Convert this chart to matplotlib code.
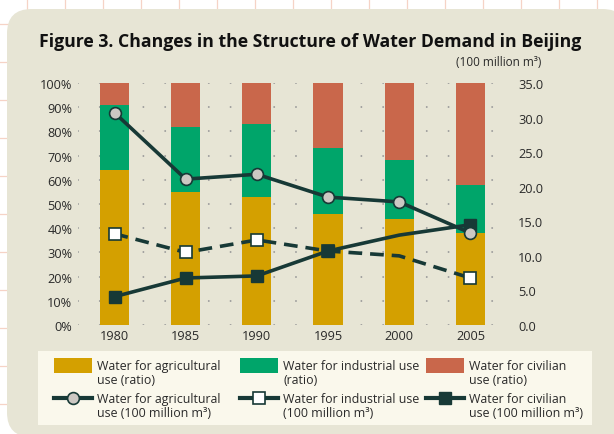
import matplotlib
matplotlib.use("Agg")
import matplotlib.pyplot as plt
import matplotlib.patches as mpatches
import matplotlib.lines as mlines
import numpy as np

plt.rcParams['font.family'] = ['Open Sans', 'DejaVu Sans']

years = ["1980", "1985", "1990", "1995", "2000", "2005"]
agri_ratio = [64, 55, 53, 46, 44, 38]
ind_ratio = [27, 27, 30, 27, 24, 20]
civ_ratio = [9, 18, 17, 27, 32, 42]
agri_vol = [30.7, 21.1, 21.8, 18.5, 17.8, 13.3]
ind_vol = [13.2, 10.5, 12.3, 10.7, 10.0, 6.8]
civ_vol = [4.1, 6.8, 7.1, 10.7, 13.0, 14.5]

left_ticks = [0, 10, 20, 30, 40, 50, 60, 70, 80, 90, 100]
right_ticks = [0, 5, 10, 15, 20, 25, 30, 35]

legend_bar_labels = ["Water for agricultural\nuse (ratio)",
                     "Water for industrial use\n(ratio)",
                     "Water for civilian\nuse (ratio)"]
legend_line_labels = ["Water for agricultural\nuse (100 million m³)",
                      "Water for industrial use\n(100 million m³)",
                      "Water for civilian\nuse (100 million m³)"]

C_AGRI = "#D4A000"
C_IND = "#00A56A"
C_CIV = "#C9674B"
C_LINE = "#173936"
C_PANEL = "#E7E5D5"
C_LEG = "#FAF8EC"
C_TXT = "#2a2a2a"
C_CIRC = "#CCC8C3"

W, H = 614, 435
fig = plt.figure(figsize=(W / 100, H / 100), dpi=100)
fig.patch.set_facecolor("white")


def fx(px):
    return px / W


def fy(py):
    return 1 - py / H


# background graph-paper lines
for k in range(20):
    x = 27 + 38 * k
    if x < W:
        fig.add_artist(mlines.Line2D([fx(x), fx(x)], [0, 1], color="#F6D3C6", lw=0.9,
                                     transform=fig.transFigure, zorder=0))
    y = 25 + 38 * k
    if y < H:
        fig.add_artist(mlines.Line2D([0, 1], [fy(y), fy(y)], color="#F6D3C6", lw=0.9,
                                     transform=fig.transFigure, zorder=0))

# panel
panel = mpatches.FancyBboxPatch((fx(7), -3 / H), 620 / W, (H - 10 + 3) / H,
                                boxstyle="round,pad=0,rounding_size=0.04",
                                transform=fig.transFigure, facecolor=C_PANEL,
                                edgecolor="none", zorder=1, mutation_aspect=W / H)
fig.add_artist(panel)

# legend box
legbox = mpatches.Rectangle((fx(38), fy(426)), (592 - 38) / W, (426 - 352) / H,
                            transform=fig.transFigure, facecolor=C_LEG, edgecolor="none", zorder=2)
fig.add_artist(legbox)

# axes
x0, x1, ytop, ybot = 78, 511, 84, 326
ax = fig.add_axes([fx(x0), fy(ybot), (x1 - x0) / W, (ybot - ytop) / H])
ax.set_zorder(3)
ax.patch.set_visible(False)

xs = np.arange(len(years))
bw = 0.41
ax.bar(xs, agri_ratio, width=bw, color=C_AGRI, zorder=2)
ax.bar(xs, ind_ratio, width=bw, bottom=agri_ratio, color=C_IND, zorder=2)
ax.bar(xs, civ_ratio, width=bw, bottom=np.add(agri_ratio, ind_ratio), color=C_CIV, zorder=2)
ax.set_xlim(-0.513, 5.57)
ax.set_ylim(0, 100)
ax.set_yticks(left_ticks)
ax.set_yticklabels([f"{v}%" for v in left_ticks])
ax.set_xticks(xs)
ax.set_xticklabels(years)
for s in ax.spines.values():
    s.set_visible(False)
ax.tick_params(axis="both", length=0, labelsize=9.2, colors=C_TXT)
ax.tick_params(axis="y", pad=4)
ax.tick_params(axis="x", pad=3)

# dotted grid
for v in left_ticks:
    ax.axhline(v, color="#9a9a9a", lw=1.4, linestyle=(0, (0.01, 11.2)),
               dash_capstyle="round", zorder=1, xmin=0, xmax=1)

ax2 = ax.twinx()
ax2.set_ylim(0, 35)
ax2.set_yticks(right_ticks)
ax2.set_yticklabels([f"{v:.1f}" for v in right_ticks])
for s in ax2.spines.values():
    s.set_visible(False)
ax2.tick_params(axis="y", length=0, labelsize=9.2, colors=C_TXT, pad=5)

lw = 2.6
ax2.plot(xs, ind_vol, color=C_LINE, lw=lw, linestyle=(0, (3.8, 2.2)), marker="s", ms=8.5,
         mfc="white", mec=C_LINE, mew=1.2, markevery=[0, 1, 2, 3, 5], zorder=3)
ax2.plot(xs, civ_vol, color=C_LINE, lw=lw, marker="s", ms=9, mfc=C_LINE, mec=C_LINE,
         markevery=[0, 1, 2, 3, 5], zorder=4)
ax2.plot(xs, agri_vol, color=C_LINE, lw=lw, marker="o", ms=8.5, mfc=C_CIRC, mec=C_LINE,
         mew=1.2, zorder=5)

# title
fig.text(fx(39), fy(42), "Figure 3. Changes in the Structure of Water Demand in Beijing",
         fontsize=12.7, fontweight="bold", color="#111111", va="center", ha="left", zorder=5)
fig.text(fx(499), fy(63), "(100 million m³)", fontsize=8.5, color=C_TXT,
         va="center", ha="center", zorder=5)

# manual legend
bar_colors = [C_AGRI, C_IND, C_CIV]
marker_styles = [
    dict(marker="o", ms=8.5, mfc=C_CIRC, mec=C_LINE, mew=1.2),
    dict(marker="s", ms=8.5, mfc="white", mec=C_LINE, mew=1.2),
    dict(marker="s", ms=9, mfc=C_LINE, mec=C_LINE, mew=1.0),
]
col_x = [54, 240, 426]
hw = 38
for i in range(3):
    px = col_x[i]
    fig.add_artist(mpatches.Rectangle((fx(px), fy(374)), hw / W, 15 / H,
                                      transform=fig.transFigure, facecolor=bar_colors[i],
                                      edgecolor="none", zorder=6))
    fig.text(fx(px + hw + 5), fy(360), legend_bar_labels[i], fontsize=8.9, color=C_TXT,
             va="top", ha="left", linespacing=1.15, zorder=6)
    fig.add_artist(mlines.Line2D([fx(px), fx(px + hw / 2), fx(px + hw)], [fy(399)] * 3,
                                 transform=fig.transFigure, color=C_LINE, lw=3,
                                 markevery=[1], zorder=6, **marker_styles[i]))
    fig.text(fx(px + hw + 5), fy(393), legend_line_labels[i], fontsize=8.9, color=C_TXT,
             va="top", ha="left", linespacing=1.15, zorder=6)

fig.savefig("out.png", dpi=100)
